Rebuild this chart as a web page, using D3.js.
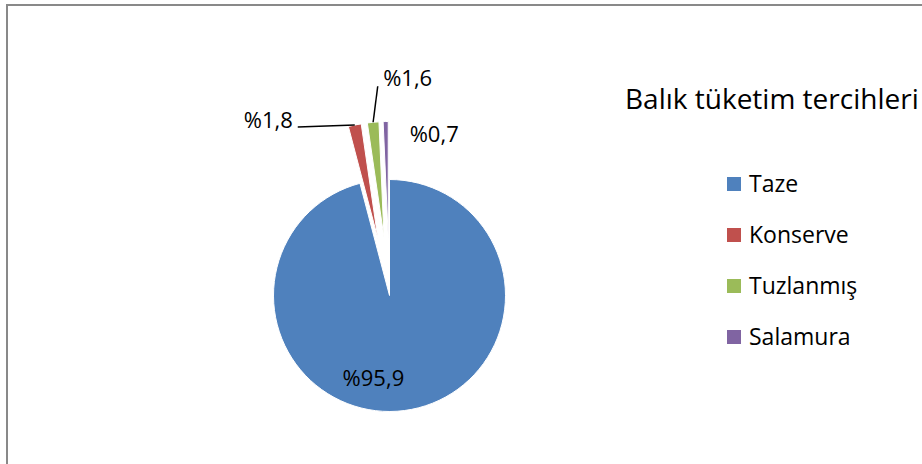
<!DOCTYPE html>
<html>
<head>
<meta charset="utf-8">
<script src="https://cdn.jsdelivr.net/npm/d3@7/dist/d3.min.js"></script>
<style>
  html, body { margin: 0; padding: 0; background: #fff; }
  svg { display: block; font-family: "Open Sans", "Noto Sans", sans-serif; }
</style>
</head>
<body>
<svg id="chart" width="922" height="464"></svg>
<script>
// ---- data ----
const categories = ["Taze", "Konserve", "Tuzlanmış", "Salamura"];
const values     = [95.9, 1.8, 1.6, 0.7];
const labels     = ["%95,9", "%1,8", "%1,6", "%0,7"];
const exploded   = [false, true, true, true];
const title      = "Balık tüketim tercihleri";

// ---- layout ----
const W = 922, H = 464;
const CX = 389.5, CY = 295.5, R = 116, EXPLODE = 58;
const colors = d3.scaleOrdinal().domain(categories)
  .range(["#4F81BD", "#C0504D", "#9BBB59", "#8064A2"]);

// label placement relative to the slice's outer midpoint
const labelLayout = [
  { dx: -31, dy: -25, anchor: "middle", leader: null },
  { dx: -62, dy: 3,   anchor: "end",    leader: [-57, 2] },
  { dx: 10,  dy: -36, anchor: "start",  leader: [4.6, -36] },
  { dx: 24,  dy: 20,  anchor: "start",  leader: null }
];

const svg = d3.select("#chart");

// frame
svg.append("path")
  .attr("d", `M7,${H} V5 H${W}`)
  .attr("fill", "none")
  .attr("stroke", "#898989")
  .attr("stroke-width", 2);

const pie = d3.pie().sort(null).value(d => d)(values);
const arc = d3.arc().innerRadius(0).outerRadius(R);

const gPie = svg.append("g").attr("transform", `translate(${CX},${CY})`);

function offsetOf(d, i) {
  if (!exploded[i]) return [0, 0];
  const a = (d.startAngle + d.endAngle) / 2;
  return [EXPLODE * Math.sin(a), -EXPLODE * Math.cos(a)];
}

gPie.selectAll("path.slice")
  .data(pie)
  .join("path")
  .attr("class", "slice")
  .attr("transform", (d, i) => { const [x, y] = offsetOf(d, i); return `translate(${x},${y})`; })
  .attr("d", arc)
  .attr("fill", (d, i) => colors(categories[i]))
  .attr("stroke", "#fff")
  .attr("stroke-width", 1);

// labels
const gLab = gPie.append("g");
pie.forEach((d, i) => {
  const a = (d.startAngle + d.endAngle) / 2;
  const [ox, oy] = offsetOf(d, i);
  const px = ox + R * Math.sin(a), py = oy - R * Math.cos(a);
  const L = labelLayout[i];
  if (L.leader) {
    gLab.append("line")
      .attr("x1", px).attr("y1", py)
      .attr("x2", px + L.leader[0]).attr("y2", py + L.leader[1])
      .attr("stroke", "#000").attr("stroke-width", 1.5);
  }
  gLab.append("text")
    .attr("x", px + L.dx).attr("y", py + L.dy)
    .attr("text-anchor", L.anchor)
    .attr("font-size", 22)
    .attr("fill", "#000")
    .text(labels[i]);
});

// title
svg.append("text")
  .attr("x", 625).attr("y", 109)
  .attr("font-size", 28)
  .attr("fill", "#000")
  .text(title);

// legend
const legend = svg.append("g").attr("transform", "translate(727,177)");
const yLeg = d3.scalePoint().domain(categories).range([0, 153]);
const items = legend.selectAll("g").data(categories).join("g")
  .attr("transform", d => `translate(0,${yLeg(d)})`);
items.append("rect")
  .attr("width", 14).attr("height", 14)
  .attr("fill", d => colors(d));
items.append("text")
  .attr("x", 22).attr("y", 7)
  .attr("dy", "0.36em")
  .attr("font-size", 23)
  .attr("fill", "#000")
  .text(d => d);
</script>
</body>
</html>
